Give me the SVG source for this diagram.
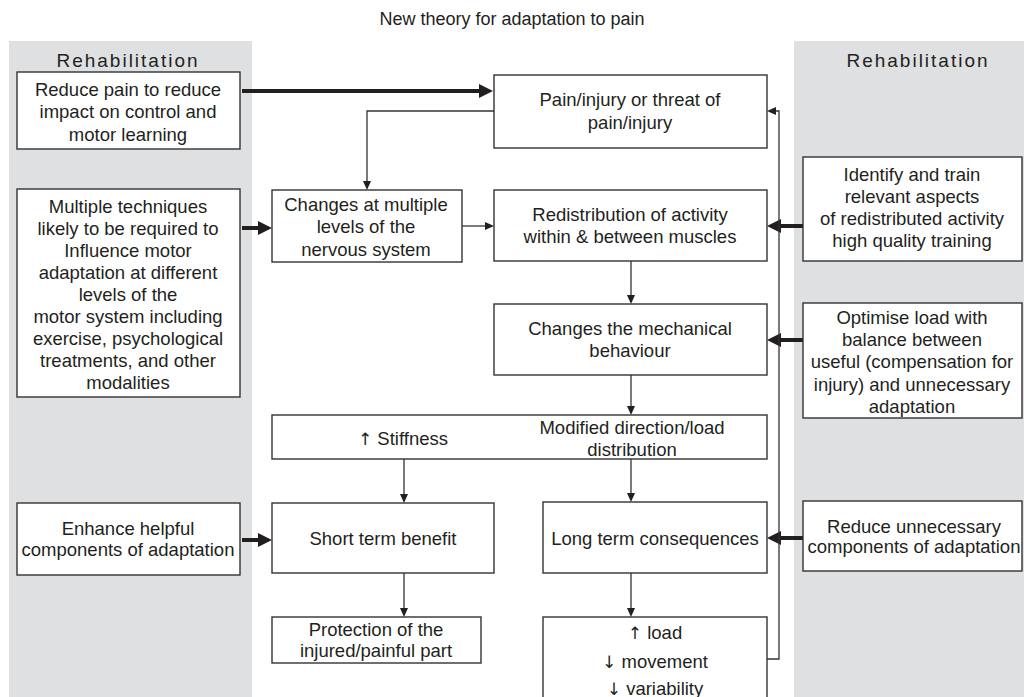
<svg xmlns="http://www.w3.org/2000/svg" width="1024" height="697" viewBox="0 0 1024 697">
<style>
text{font-family:"Liberation Sans",Arial,sans-serif;font-size:18.5px;fill:#231f20;text-anchor:middle}
.ar{font-family:"DejaVu Sans",sans-serif;font-size:17px}
.title{font-size:18px}
.rehab{font-size:19px;letter-spacing:2px}
.box{fill:#fff;stroke:#333;stroke-width:1.4}
.panel{fill:#dfe0e2}
.thin{fill:none;stroke:#333;stroke-width:1.3}
.thick{fill:none;stroke:#231f20;stroke-width:4}
</style>
<defs>
<marker id="ah" markerUnits="userSpaceOnUse" markerWidth="9" markerHeight="8" refX="0" refY="4" orient="auto">
<path d="M0,0 L9,4 L0,8 z" fill="#231f20"/>
</marker>
<marker id="ahb" markerUnits="userSpaceOnUse" markerWidth="14" markerHeight="14" refX="0" refY="7" orient="auto">
<path d="M0,0 L14,7 L0,14 z" fill="#231f20"/>
</marker>
</defs>
<rect width="1024" height="697" fill="#fff"/>
<text class="title" x="512" y="25">New theory for adaptation to pain</text>
<g id="panel-left">
<rect class="panel" x="9" y="41" width="243" height="656"/>
<text class="rehab" x="128" y="67">Rehabilitation</text>
</g>
<g id="panel-right">
<rect class="panel" x="794" y="41" width="230" height="656"/>
<text class="rehab" x="918" y="67">Rehabilitation</text>
</g>
<g id="connectors">
<path class="thick" d="M242,91 H479" marker-end="url(#ahb)"/>
<path class="thick" d="M242,228 H258" marker-end="url(#ahb)"/>
<path class="thick" d="M803,226 H781" marker-end="url(#ahb)"/>
<path class="thick" d="M803,340 H781" marker-end="url(#ahb)"/>
<path class="thick" d="M803,538 H781" marker-end="url(#ahb)"/>
<path class="thick" d="M242,540 H258" marker-end="url(#ahb)"/>
<path class="thin" d="M494,111 H367 V181" marker-end="url(#ah)"/>
<path class="thin" d="M462,226 H485" marker-end="url(#ah)"/>
<path class="thin" d="M631,261 V295" marker-end="url(#ah)"/>
<path class="thin" d="M631,375 V406" marker-end="url(#ah)"/>
<path class="thin" d="M631,459 V493" marker-end="url(#ah)"/>
<path class="thin" d="M404,459 V494" marker-end="url(#ah)"/>
<path class="thin" d="M404,573 V608" marker-end="url(#ah)"/>
<path class="thin" d="M631,573 V608" marker-end="url(#ah)"/>
<path class="thin" d="M767,659 H779 V111 H776" marker-end="url(#ah)"/>
</g>
<g id="reduce-pain">
<rect class="box" x="17" y="72" width="223" height="77"/>
<text x="128" y="96">Reduce pain to reduce</text>
<text x="128" y="118">impact on control and</text>
<text x="128" y="141">motor learning</text>
</g>
<g id="multiple-techniques">
<rect class="box" x="17" y="189" width="223" height="208"/>
<text x="128" y="213">Multiple techniques</text>
<text x="128" y="235">likely to be required to</text>
<text x="128" y="257">Influence motor</text>
<text x="128" y="279">adaptation at different</text>
<text x="128" y="301">levels of the</text>
<text x="128" y="323">motor system including</text>
<text x="128" y="345">exercise, psychological</text>
<text x="128" y="367">treatments, and other</text>
<text x="128" y="389">modalities</text>
</g>
<g id="changes-levels">
<rect class="box" x="272" y="190" width="190" height="72"/>
<text x="366" y="211">Changes at multiple</text>
<text x="366" y="233">levels of the</text>
<text x="366" y="256">nervous system</text>
</g>
<g id="pain-injury">
<rect class="box" x="494" y="75" width="273" height="73"/>
<text x="630" y="106">Pain/injury or threat of</text>
<text x="630" y="129">pain/injury</text>
</g>
<g id="redistribution">
<rect class="box" x="494" y="190" width="273" height="71"/>
<text x="630" y="221">Redistribution of activity</text>
<text x="630" y="243">within &amp; between muscles</text>
</g>
<g id="identify-train">
<rect class="box" x="803" y="157" width="219" height="104"/>
<text x="912" y="181">Identify and train</text>
<text x="912" y="203">relevant aspects</text>
<text x="912" y="225">of redistributed activity</text>
<text x="912" y="247">high quality training</text>
</g>
<g id="mechanical">
<rect class="box" x="494" y="304" width="273" height="71"/>
<text x="630" y="335">Changes the mechanical</text>
<text x="630" y="357">behaviour</text>
</g>
<g id="optimise-load">
<rect class="box" x="803" y="303" width="219" height="115"/>
<text x="912" y="324">Optimise load with</text>
<text x="912" y="346">balance between</text>
<text x="912" y="368">useful (compensation for</text>
<text x="912" y="391">injury) and unnecessary</text>
<text x="912" y="413">adaptation</text>
</g>
<g id="stiffness-direction">
<rect class="box" x="272" y="415" width="495" height="44"/>
<text x="403" y="445"><tspan class="ar">↑</tspan> Stiffness</text>
<text x="632" y="434">Modified direction/load</text>
<text x="632" y="456">distribution</text>
</g>
<g id="enhance-helpful">
<rect class="box" x="17" y="503" width="223" height="72"/>
<text x="128" y="535">Enhance helpful</text>
<text x="128" y="556">components of adaptation</text>
</g>
<g id="short-term">
<rect class="box" x="272" y="503" width="222" height="70"/>
<text x="383" y="545">Short term benefit</text>
</g>
<g id="long-term">
<rect class="box" x="543" y="502" width="224" height="71"/>
<text x="655" y="545">Long term consequences</text>
</g>
<g id="reduce-unnecessary">
<rect class="box" x="803" y="501" width="219" height="70"/>
<text x="914" y="533">Reduce unnecessary</text>
<text x="914" y="553">components of adaptation</text>
</g>
<g id="protection">
<rect class="box" x="272" y="617" width="209" height="46"/>
<text x="376" y="636">Protection of the</text>
<text x="376" y="657">injured/painful part</text>
</g>
<g id="load-movement">
<rect class="box" x="543" y="617" width="224" height="90"/>
<text x="655" y="639"><tspan class="ar">↑</tspan> load</text>
<text x="655" y="668"><tspan class="ar">↓</tspan> movement</text>
<text x="655" y="695"><tspan class="ar">↓</tspan> variability</text>
</g>
</svg>
